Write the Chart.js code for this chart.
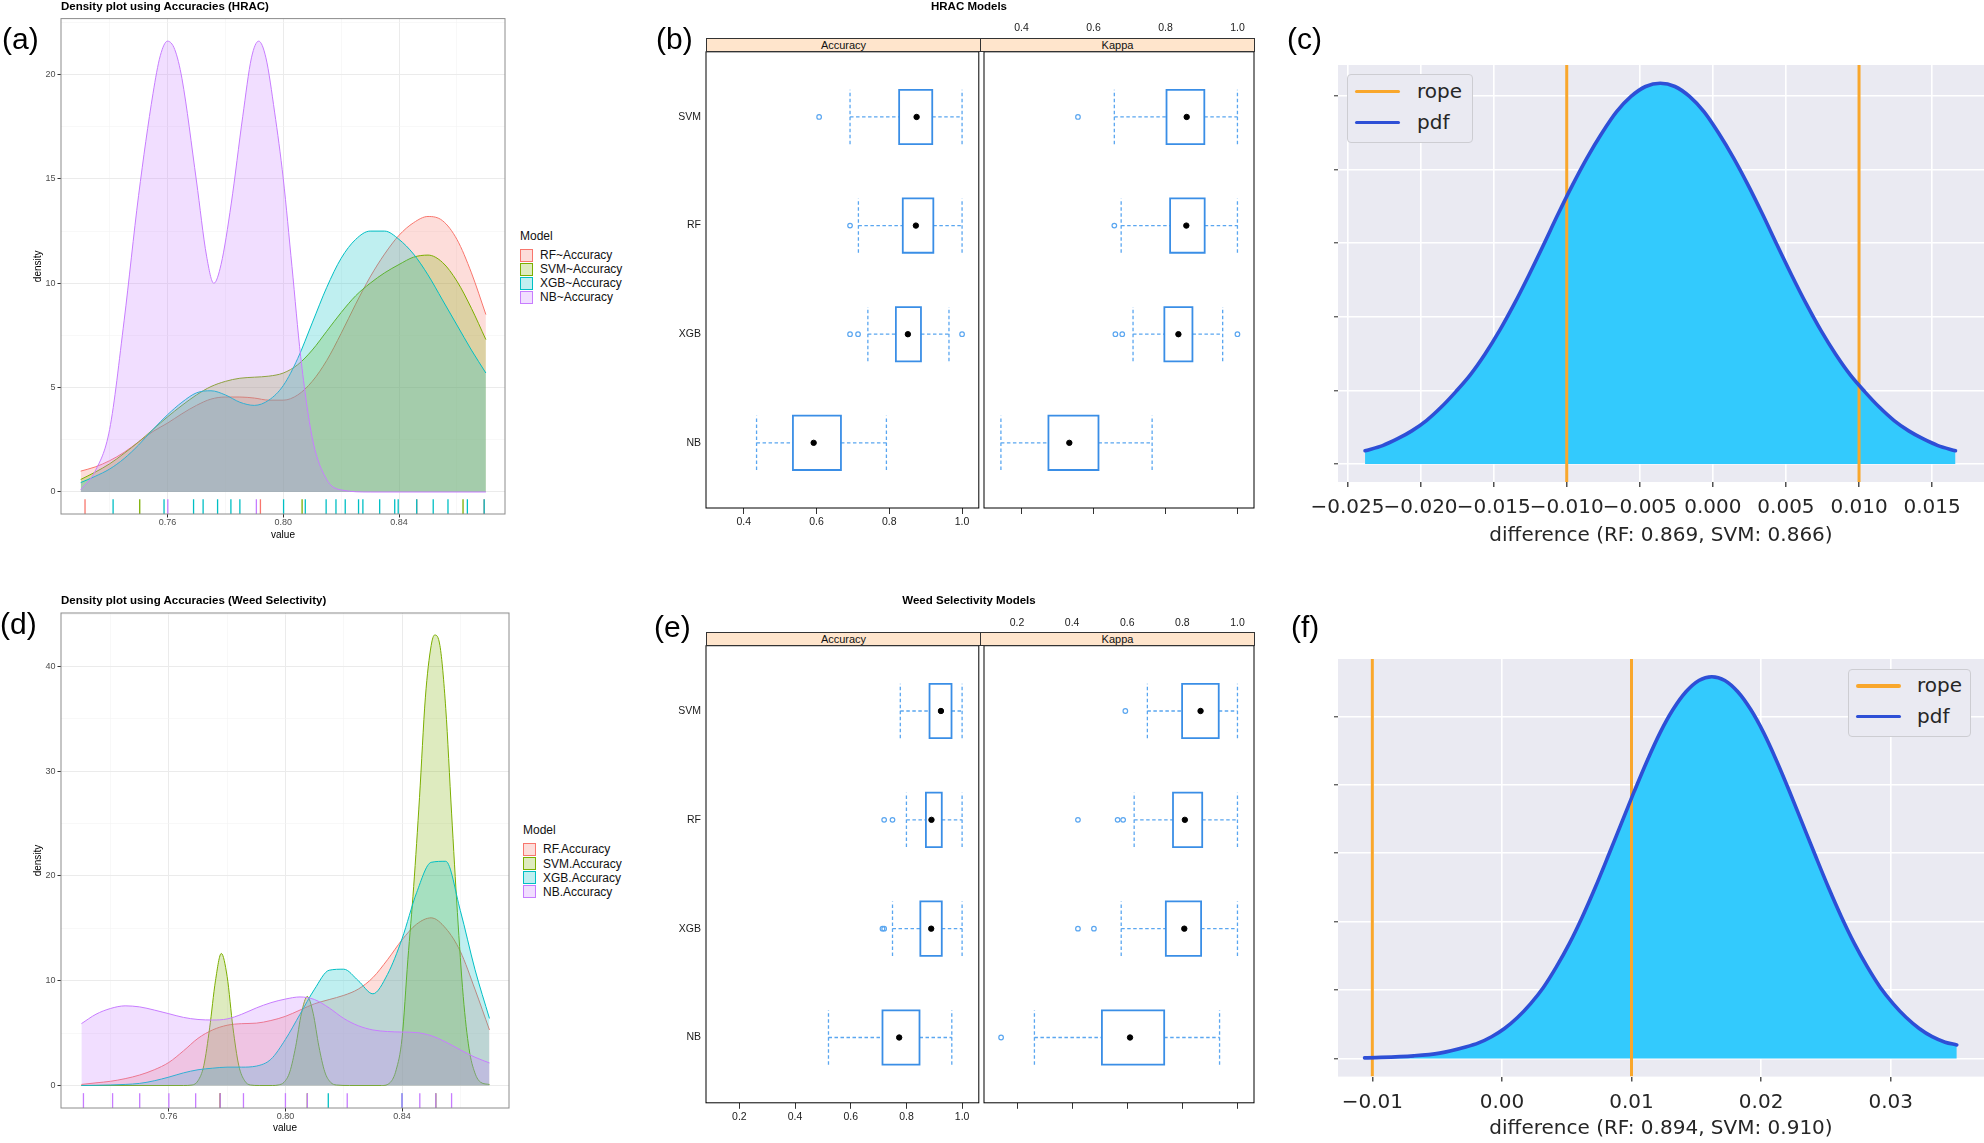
<!DOCTYPE html>
<html>
<head>
<meta charset="utf-8">
<title>Model accuracy comparison</title>
<script src="https://cdn.jsdelivr.net/npm/chart.js@4.4.1/dist/chart.umd.min.js"></script>
<style>
  body { margin: 0; background: #fff; }
  #page { position: relative; width: 1984px; height: 1143px; overflow: hidden; background: #fff;
          font-family: "Liberation Sans", Arial, sans-serif; color: #000; }
  #page canvas, .txt { position: absolute; }
  .txt { white-space: nowrap; line-height: 1; }
  .tag { font-size: 30px; }
  .gtitle { font-size: 11.5px; font-weight: bold; }
  .ctitle { font-size: 11.5px; font-weight: bold; text-align: center; width: 400px; }
  .strip { position: absolute; background: #FFE5CC; border: 1px solid #333; box-sizing: border-box;
           font-size: 11px; text-align: center; color: #111; }
  .lgd { font-size: 12px; color: #111; }
  .key { position: absolute; width: 13px; height: 13px; box-sizing: border-box; border: 1px solid; }
  .sbox { position: absolute; border: 1px solid #cdcdd2; border-radius: 4px; background: #EAEAF2; box-sizing: border-box; }
  .sline { position: absolute; height: 3.5px; border-radius: 2px; }
  .stext { font-family: "DejaVu Sans", sans-serif; font-size: 20px; color: #262626; }
</style>
</head>
<body>
<div id="page"></div>
<script>
// ---------- density plots (a) and (d): curves ----------
const densityGrid = [0.730, 0.735, 0.740, 0.745, 0.750, 0.755, 0.760, 0.765, 0.770, 0.775,
                     0.780, 0.785, 0.790, 0.795, 0.800, 0.805, 0.810, 0.815, 0.820, 0.825,
                     0.830, 0.835, 0.840, 0.845, 0.850, 0.855, 0.860, 0.865, 0.870];

const hracRF  = [1.0, 1.2, 1.5, 1.9, 2.4, 2.9, 3.3, 3.75, 4.15, 4.45, 4.55, 4.55, 4.5, 4.4, 4.4,
                 4.65, 5.3, 6.3, 7.6, 9.0, 10.3, 11.4, 12.3, 12.9, 13.2, 13.0, 12.1, 10.5, 8.5];
const hracSVM = [0.6, 0.95, 1.35, 1.85, 2.4, 3.0, 3.6, 4.15, 4.65, 5.05, 5.3, 5.45, 5.5, 5.55, 5.7,
                 6.1, 6.8, 7.7, 8.6, 9.4, 10.0, 10.5, 10.9, 11.25, 11.35, 11.0, 10.1, 8.8, 7.3];
const hracXGB = [0.45, 0.75, 1.1, 1.6, 2.25, 3.0, 3.7, 4.3, 4.75, 4.85, 4.65, 4.3, 4.15, 4.4, 5.1,
                 6.4, 8.1, 9.8, 11.2, 12.1, 12.5, 12.5, 12.1, 11.4, 10.4, 9.2, 8.0, 6.8, 5.7];
const hracNBx = [0.730, 0.735, 0.740, 0.745, 0.750, 0.755, 0.7575, 0.760, 0.7625, 0.765, 0.770, 0.7735,
                 0.776, 0.7785, 0.782, 0.786, 0.789, 0.7915, 0.794, 0.797, 0.800, 0.803, 0.806, 0.810,
                 0.815, 0.820, 0.830, 0.870];
const hracNB  = [0.1, 1.0, 3.0, 8.2, 14.2, 19.1, 20.9, 21.6, 21.2, 19.8, 14.9, 11.3,
                 10.0, 10.9, 13.8, 18.0, 20.8, 21.6, 20.8, 18.2, 15.0, 10.8, 6.5, 2.6,
                 0.6, 0.1, 0.0, 0.0];

const hracRugRF  = [0.7315, 0.7921, 0.8461, 0.8694];
const hracRugSVM = [0.7504, 0.8065, 0.8621];
const hracRugXGB = [0.7412, 0.7588, 0.7690, 0.7723, 0.7773, 0.7819, 0.7850, 0.8001, 0.8076, 0.8148,
                    0.8182, 0.8214, 0.8260, 0.8275, 0.8333, 0.8385, 0.8397, 0.8461, 0.8518, 0.8569,
                    0.8636, 0.8694];
const hracRugNB  = [0.7601, 0.7907];

const weedRF  = [0.1, 0.25, 0.4, 0.65, 1.0, 1.5, 2.2, 3.3, 4.5, 5.3, 5.75, 5.9, 5.95, 6.2, 6.6,
                 7.2, 7.8, 8.2, 8.6, 9.2, 10.3, 12.0, 13.9, 15.4, 16.0, 15.0, 12.8, 9.2, 5.3];
const weedXGB = [0.0, 0.02, 0.05, 0.1, 0.2, 0.45, 0.8, 1.2, 1.5, 1.65, 1.75, 1.75, 1.85, 2.5, 4.4,
                 6.8, 9.2, 11.0, 11.1, 10.0, 8.75, 10.6, 14.0, 18.4, 21.3, 21.4, 16.7, 11.1, 6.4];
const weedNB  = [5.9, 6.8, 7.35, 7.6, 7.5, 7.2, 6.85, 6.5, 6.3, 6.25, 6.35, 6.8, 7.4, 7.9, 8.25,
                 8.45, 8.2, 7.4, 6.4, 5.7, 5.3, 5.15, 5.1, 5.05, 4.75, 4.15, 3.4, 2.7, 2.15];
const weedSVMx = [0.730, 0.765, 0.768, 0.770, 0.772, 0.774, 0.776, 0.778, 0.780, 0.782, 0.784, 0.786,
                  0.788, 0.791, 0.7955, 0.7975, 0.7995, 0.8015, 0.8035, 0.8055, 0.8075, 0.8095, 0.8115,
                  0.8135, 0.8155, 0.8175, 0.822, 0.833, 0.836, 0.838, 0.840, 0.842, 0.844, 0.846,
                  0.848, 0.850, 0.8512, 0.853, 0.855, 0.857, 0.859, 0.861, 0.863, 0.865, 0.867, 0.870];
const weedSVM  = [0.0, 0.0, 0.05, 0.45, 1.9, 5.5, 10.0, 12.6, 10.4, 5.5, 1.9, 0.45,
                  0.05, 0.0, 0.0, 0.05, 0.3, 1.3, 3.7, 6.9, 8.5, 6.9, 3.7,
                  1.3, 0.3, 0.05, 0.0, 0.0, 0.3, 1.5, 4.5, 12.0, 19.0, 27.5,
                  37.0, 42.0, 43.0, 42.0, 36.0, 26.0, 16.5, 8.5, 3.5, 1.2, 0.3, 0.1];

const weedRugRF  = [0.7776];
const weedRugSVM = [0.7776, 0.8075, 0.8516];
const weedRugXGB = [0.8147, 0.8400];
const weedRugNB  = [0.7307, 0.7407, 0.7500, 0.7600, 0.7692, 0.7776, 0.7856, 0.8000, 0.8075,
                    0.8212, 0.8400, 0.8461, 0.8516, 0.8570];

const hracModelLabels = ['RF~Accuracy', 'SVM~Accuracy', 'XGB~Accuracy', 'NB~Accuracy'];
const weedModelLabels = ['RF.Accuracy', 'SVM.Accuracy', 'XGB.Accuracy', 'NB.Accuracy'];
const modelColors = ['#F8766D', '#7CAE00', '#00BFC4', '#C77CFF'];

const densityXTicks = [0.74, 0.76, 0.78, 0.80, 0.82, 0.84, 0.86];
const densityXMajor = [0.76, 0.80, 0.84];
const hracYTicks = [0, 2.5, 5, 7.5, 10, 12.5, 15, 17.5, 20, 22.5];
const hracYMajor = [0, 5, 10, 15, 20];
const weedYTicks = [0, 5, 10, 15, 20, 25, 30, 35, 40, 45];
const weedYMajor = [0, 10, 20, 30, 40];

// ---------- box plots (b) and (e): [lower whisker, Q1, median, Q3, upper whisker] ----------
const boxModels = ['NB', 'XGB', 'RF', 'SVM'];   // bottom to top
const hracAccuracyBox = [[0.435, 0.535, 0.592, 0.667, 0.792],
                         [0.741, 0.818, 0.851, 0.887, 0.964],
                         [0.715, 0.837, 0.873, 0.921, 1.000],
                         [0.692, 0.827, 0.875, 0.918, 1.000]];
const hracAccuracyOut = [[], [0.692, 0.714, 1.0], [0.692], [0.607]];
const hracKappaBox = [[0.343, 0.475, 0.533, 0.614, 0.763],
                      [0.710, 0.797, 0.836, 0.875, 0.959],
                      [0.677, 0.813, 0.858, 0.909, 1.000],
                      [0.658, 0.803, 0.859, 0.908, 1.000]];
const hracKappaOut = [[], [0.661, 0.680, 1.0], [0.658], [0.557]];
const weedAccuracyBox = [[0.520, 0.714, 0.774, 0.847, 0.963],
                         [0.750, 0.850, 0.889, 0.927, 1.000],
                         [0.800, 0.870, 0.890, 0.927, 1.000],
                         [0.778, 0.883, 0.924, 0.962, 1.000]];
const weedAccuracyOut = [[], [0.714, 0.720], [0.720, 0.750], []];
const weedKappaBox = [[0.263, 0.508, 0.610, 0.734, 0.935],
                      [0.578, 0.740, 0.807, 0.868, 1.000],
                      [0.625, 0.766, 0.809, 0.872, 1.000],
                      [0.673, 0.799, 0.866, 0.932, 1.000]];
const weedKappaOut = [[0.142], [0.421, 0.479], [0.421, 0.565, 0.585], [0.593]];
const hracBoxTicks = [0.4, 0.6, 0.8, 1.0];
const weedBoxTicks = [0.2, 0.4, 0.6, 0.8, 1.0];

// ---------- posterior of the difference (c) and (f) ----------
const ropeBounds = [-0.01, 0.01];
const hracDiffX   = [-0.0238, -0.0226, -0.0216, -0.0206, -0.0196, -0.0186, -0.0176, -0.0166, -0.0156, -0.0146,
                     -0.0136, -0.0126, -0.0116, -0.0106, -0.0096, -0.0086, -0.0076, -0.0066, -0.0056, -0.0046,
                     -0.0036,
                     -0.0026, -0.0016, -0.0006, 0.0004, 0.0014, 0.0024, 0.0034, 0.0044, 0.0054, 0.0064,
                     0.0074, 0.0084, 0.0094, 0.0104, 0.0114, 0.0124, 0.0134, 0.0144, 0.0154, 0.0166];
const hracDiffPdf = [1.8, 2.5, 3.4, 4.5, 5.9, 7.7, 9.8, 12.1, 14.9, 18.1,
                     21.7, 25.6, 29.7, 33.9, 37.9, 41.6, 44.9, 47.8, 49.9, 51.25,
                     51.7,
                     51.25, 49.9, 47.8, 44.9, 41.6, 37.9, 33.9, 29.7, 25.6, 21.7,
                     18.1, 14.9, 12.1, 9.8, 7.7, 5.9, 4.5, 3.4, 2.5, 1.8];
const weedDiffX   = [-0.0106, -0.0068, -0.0048, -0.0028, -0.0018, -0.0008, 0.0002, 0.0012, 0.0022, 0.0032,
                     0.0042, 0.0052, 0.0062, 0.0072, 0.0082, 0.0092, 0.0102, 0.0112, 0.0122, 0.0132,
                     0.0142, 0.0152, 0.0162,
                     0.0172, 0.0182, 0.0192, 0.0202, 0.0212, 0.0222, 0.0232, 0.0242, 0.0252, 0.0262,
                     0.0272, 0.0282, 0.0292, 0.0302, 0.0312, 0.0322, 0.0332, 0.0342, 0.0351];
const weedDiffPdf = [0.1, 0.4, 0.8, 1.7, 2.3, 3.2, 4.4, 6.0, 8.0, 10.4,
                     13.4, 16.8, 20.7, 25.0, 29.6, 34.3, 39.0, 43.5, 47.6, 51.0,
                     53.6, 55.25, 55.8,
                     55.25, 53.6, 51.0, 47.6, 43.5, 39.0, 34.3, 29.6, 25.0, 20.7,
                     16.8, 13.4, 10.4, 8.0, 6.0, 4.4, 3.2, 2.4, 2.0];
const hracDiffTicks = [-0.025, -0.020, -0.015, -0.010, -0.005, 0.000, 0.005, 0.010, 0.015];
const weedDiffTicks = [-0.01, 0.00, 0.01, 0.02, 0.03];
const pdfGridTicks = [0, 10, 20, 30, 40, 50];

// ---------- helpers ----------
Chart.defaults.font.family = '"Liberation Sans", Arial, sans-serif';

const panelPlugin = {
  id: 'panel',
  beforeDraw(chart, args, opts) {
    if (!opts.fill) return;
    const a = chart.chartArea, c = chart.ctx;
    c.save();
    c.fillStyle = opts.fill;
    c.fillRect(a.left, a.top, a.right - a.left, a.bottom - a.top);
    c.restore();
  },
  afterDatasetsDraw(chart, args, opts) {
    if (!opts.border) return;
    const a = chart.chartArea, c = chart.ctx;
    c.save();
    c.strokeStyle = opts.border;
    c.lineWidth = opts.width || 1;
    c.strokeRect(a.left, a.top, a.right - a.left, a.bottom - a.top);
    c.restore();
  }
};
Chart.register(panelPlugin);

const page = document.getElementById('page');

function canvasAt(left, top, w, h) {
  const cv = document.createElement('canvas');
  cv.width = w; cv.height = h;
  cv.style.left = left + 'px'; cv.style.top = top + 'px';
  cv.style.width = w + 'px'; cv.style.height = h + 'px';
  page.appendChild(cv);
  return cv.getContext('2d');
}

function text(str, left, top, cls, extra) {
  const d = document.createElement('div');
  d.className = 'txt ' + (cls || '');
  d.textContent = str;
  d.style.left = left + 'px';
  d.style.top = top + 'px';
  if (extra) Object.assign(d.style, extra);
  page.appendChild(d);
  return d;
}

function box(cls, left, top, w, h, extra) {
  const d = document.createElement('div');
  d.className = cls;
  Object.assign(d.style, { left: left + 'px', top: top + 'px', width: w + 'px', height: h + 'px' }, extra || {});
  page.appendChild(d);
  return d;
}

const near = (list, v) => list.some(m => Math.abs(m - v) < 1e-9);
const rgba = (hex, a) => {
  const n = parseInt(hex.slice(1), 16);
  return `rgba(${n >> 16},${(n >> 8) & 255},${n & 255},${a})`;
};
const fixTicks = values => scale => { scale.ticks = values.map(v => ({ value: v })); };
const pts = (xs, ys) => xs.map((x, i) => ({ x, y: ys[i] }));

// ---------- ggplot style density panel ----------
function densityPanel(p) {
  const ctx = canvasAt(p.left, p.top, p.width, p.height);
  const plotH = p.area.b - p.area.t;
  const rugY = p.yMin + (p.yMax - p.yMin) * 0.015;
  const rugR = plotH * 0.015;
  const rugs = p.series.map(s => ({
    data: s.rug.map(x => ({ x, y: rugY })),
    showLine: false, pointStyle: 'line', pointRotation: 90, pointRadius: rugR,
    borderColor: s.color, pointBorderColor: s.color, pointBorderWidth: 1.3
  })).reverse();
  const curves = p.series.map(s => ({
    data: pts(s.xs, s.ys),
    showLine: true, pointRadius: 0, borderColor: s.color, borderWidth: 1,
    backgroundColor: rgba(s.color, 0.25), fill: 'origin', cubicInterpolationMode: 'monotone'
  })).reverse();
  const isMajX = c => c.tick && near(densityXMajor, c.tick.value);
  const isMajY = c => c.tick && near(p.yMajor, c.tick.value);
  new Chart(ctx, {
    type: 'scatter',
    data: { datasets: rugs.concat(curves) },
    options: {
      responsive: false, animation: false,
      layout: { padding: { left: 0, top: p.area.t, right: p.width - p.area.r, bottom: 0 } },
      plugins: { legend: { display: false }, tooltip: { enabled: false }, panel: { border: '#8C8C8C', width: 1 } },
      scales: {
        x: {
          min: p.xMin, max: p.xMax,
          afterBuildTicks: fixTicks(densityXTicks),
          afterFit: s => { s.height = p.height - p.area.b; },
          border: { display: false },
          grid: {
            color: c => isMajX(c) ? '#EBEBEB' : '#F4F4F4',
            lineWidth: c => isMajX(c) ? 1 : 0.6,
            tickLength: 3.5, tickWidth: 1,
            tickColor: c => isMajX(c) ? '#333333' : 'rgba(0,0,0,0)'
          },
          ticks: { autoSkip: false, maxRotation: 0, padding: 0, color: '#4D4D4D', font: { size: 9 },
                   callback: v => near(densityXMajor, v) ? v.toFixed(2) : '' },
          title: { display: true, text: 'value', color: '#000', font: { size: 10 },
                   padding: { top: 0, bottom: p.xTitlePad } }
        },
        y: {
          min: p.yMin, max: p.yMax,
          afterBuildTicks: fixTicks(p.yTicks),
          afterFit: s => { s.width = p.area.l; },
          border: { display: false },
          grid: {
            color: c => isMajY(c) ? '#EBEBEB' : '#F4F4F4',
            lineWidth: c => isMajY(c) ? 1 : 0.6,
            tickLength: 3.5, tickWidth: 1,
            tickColor: c => isMajY(c) ? '#333333' : 'rgba(0,0,0,0)'
          },
          ticks: { autoSkip: false, padding: 2, color: '#4D4D4D', font: { size: 9 },
                   callback: v => near(p.yMajor, v) ? String(v) : '' },
          title: { display: true, text: 'density', color: '#000', font: { size: 10 },
                   padding: { top: 32, bottom: 0 } }
        }
      }
    }
  });
  // legend
  text('Model', p.legend.x, p.legend.titleY - 6, 'lgd');
  p.series.forEach((s, i) => {
    const cy = p.legend.rowY[i];
    box('key', p.legend.x, cy - 6.5, 13, 13, { borderColor: s.color, background: rgba(s.color, 0.25) });
    text(s.label, p.legend.x + 20, cy - 5.8, 'lgd');
  });
}

// ---------- lattice style box plot panel (one strip) ----------
function latticeHalf(p) {
  const ctx = canvasAt(p.left, p.top, p.width, p.height);
  const H = 0.25;
  const gap = () => ({ x: null, y: null });
  const whisk = [], rects = [], meds = [], outs = [];
  p.stats.forEach((st, i) => {
    const y = i + 1;
    const [lo, q1, med, q3, hi] = st;
    whisk.push({ x: lo, y }, { x: q1, y }, gap(), { x: q3, y }, { x: hi, y }, gap(),
               { x: lo, y: y - H }, { x: lo, y: y + H }, gap(), { x: hi, y: y - H }, { x: hi, y: y + H }, gap());
    rects.push({ x: q1, y: y - H }, { x: q3, y: y - H }, { x: q3, y: y + H }, { x: q1, y: y + H },
               { x: q1, y: y - H }, gap());
    meds.push({ x: med, y });
    p.outliers[i].forEach(v => outs.push({ x: v, y }));
  });
  const scales = {
    x: {
      min: p.range[0], max: p.range[1],
      afterBuildTicks: fixTicks(p.ticks),
      afterFit: s => { s.height = p.height - p.area.b; },
      border: { display: false },
      grid: { drawOnChartArea: false, tickLength: 6, tickColor: '#333', tickWidth: 1 },
      ticks: { autoSkip: false, maxRotation: 0, padding: 2, color: '#1a1a1a', font: { size: 10.5 },
               callback: v => p.bottomLabels ? v.toFixed(1) : '' }
    },
    y: {
      display: p.yLabels,
      min: 0.4, max: 4.6,
      afterBuildTicks: fixTicks([1, 2, 3, 4]),
      afterFit: s => { s.width = p.area.l; },
      border: { display: false },
      grid: { drawOnChartArea: false, drawTicks: false },
      ticks: { padding: 5, color: '#1a1a1a', font: { size: 10.5 }, callback: v => boxModels[v - 1] }
    }
  };
  if (p.topLabels) {
    scales.x2 = {
      position: 'top', min: p.range[0], max: p.range[1],
      afterBuildTicks: fixTicks(p.ticks),
      afterFit: s => { s.height = p.area.t; },
      border: { display: false },
      grid: { drawOnChartArea: false, tickLength: p.area.t - p.stripTop + 1, tickColor: 'rgba(0,0,0,0)' },
      ticks: { autoSkip: false, maxRotation: 0, padding: 2, color: '#1a1a1a', font: { size: 10.5 },
               callback: v => v.toFixed(1) }
    };
  }
  new Chart(ctx, {
    type: 'scatter',
    data: {
      datasets: [
        { data: meds, pointRadius: 2.7, pointBackgroundColor: '#000', pointBorderColor: '#000', borderColor: '#000' },
        { data: outs, pointRadius: 2.3, pointBackgroundColor: 'rgba(0,0,0,0)', backgroundColor: 'rgba(0,0,0,0)',
          pointBorderColor: '#5AA6F0', borderColor: '#5AA6F0', pointBorderWidth: 1.2 },
        { data: rects, showLine: true, pointRadius: 0, borderColor: '#3A8EE6', borderWidth: 1.8,
          borderCapStyle: 'square', fill: false },
        { data: whisk, showLine: true, pointRadius: 0, borderColor: '#5AA6F0', borderWidth: 1.3,
          borderDash: [3.5, 2.5], fill: false }
      ]
    },
    options: {
      responsive: false, animation: false,
      layout: { padding: { left: p.yLabels ? 0 : p.area.l, top: p.topLabels ? 0 : p.area.t,
                           right: p.width - p.area.r, bottom: 0 } },
      plugins: { legend: { display: false }, tooltip: { enabled: false }, panel: { border: '#000', width: 1 } },
      scales
    }
  });
}

function latticePanel(p) {
  const W = 344, W2 = 288;
  latticeHalf({ left: 640, top: p.top, width: W, height: p.height, range: p.range, ticks: p.ticks,
                area: { l: 66, t: p.areaT, r: 340, b: p.areaB }, stats: p.accBox, outliers: p.accOut,
                yLabels: true, bottomLabels: true, topLabels: false });
  latticeHalf({ left: 976, top: p.top, width: W2, height: p.height, range: p.range, ticks: p.ticks,
                area: { l: 4, t: p.areaT, r: 278, b: p.areaB }, stats: p.kapBox, outliers: p.kapOut,
                yLabels: false, bottomLabels: false, topLabels: true, stripTop: p.areaT - p.stripH });
  const sTop = p.top + p.areaT - p.stripH;
  const s1 = box('strip', 706, sTop, 275, p.stripH + 0.5, { lineHeight: (p.stripH - 1) + 'px' });
  s1.textContent = 'Accuracy';
  const s2 = box('strip', 980, sTop, 275, p.stripH + 0.5, { lineHeight: (p.stripH - 1) + 'px' });
  s2.textContent = 'Kappa';
  text(p.title, 969 - 200, p.titleY - 5.6, 'ctitle');
}

// ---------- seaborn style posterior panel ----------
function ropePanel(p) {
  const ctx = canvasAt(1280, p.top, 704, p.height);
  const curve = pts(p.xs, p.ys);
  const rope = [];
  ropeBounds.forEach(r => rope.push({ x: r, y: p.yMin }, { x: r, y: p.yMax }, { x: null, y: null }));
  const sFont = { family: '"DejaVu Sans", sans-serif', size: 20 };
  new Chart(ctx, {
    type: 'scatter',
    data: {
      datasets: [
        { data: curve, showLine: true, pointRadius: 0, borderColor: '#2E4FD6', borderWidth: 3.6,
          borderCapStyle: 'round', fill: false, cubicInterpolationMode: 'monotone' },
        { data: rope, showLine: true, pointRadius: 0, borderColor: '#F9A72C', borderWidth: 3, fill: false },
        { data: curve, showLine: true, pointRadius: 0, borderColor: 'rgba(0,0,0,0)', borderWidth: 0,
          backgroundColor: '#33CAFD', fill: 'origin', cubicInterpolationMode: 'monotone' }
      ]
    },
    options: {
      responsive: false, animation: false,
      layout: { padding: { left: 0, top: p.areaT, right: 0, bottom: 0 } },
      plugins: { legend: { display: false }, tooltip: { enabled: false }, panel: { fill: '#EAEAF2' } },
      scales: {
        x: {
          min: p.xMin, max: p.xMax,
          afterBuildTicks: fixTicks(p.ticks),
          afterFit: s => { s.height = p.height - p.areaB; },
          border: { display: false },
          grid: { color: '#FFFFFF', lineWidth: 1.6, tickLength: 5, tickColor: '#262626', tickWidth: 1.2 },
          ticks: { autoSkip: false, maxRotation: 0, minRotation: 0, padding: 9, color: '#262626', font: sFont,
                   callback: v => (v < -1e-12 ? '\u2212' : '') + Math.abs(v).toFixed(p.digits) },
          title: { display: true, text: p.xlabel, color: '#262626', font: sFont,
                   padding: { top: 0, bottom: p.xTitlePad } }
        },
        y: {
          min: p.yMin, max: p.yMax,
          afterBuildTicks: fixTicks(pdfGridTicks),
          afterFit: s => { s.width = 58; },
          border: { display: false },
          grid: { color: '#FFFFFF', lineWidth: 1.6, tickLength: 4, tickColor: '#262626', tickWidth: 1 },
          ticks: { padding: 0, callback: () => '' }
        }
      }
    }
  });
  // legend
  const L = p.legend;
  box('sbox', L.x, L.y, L.w, L.h);
  box('sline', L.lineX, L.ropeY - 1.75, 45, 0, { height: '3.5px', background: '#F9A72C' });
  box('sline', L.lineX, L.pdfY - 1.75, 45, 0, { height: '3.5px', background: '#2E4FD6' });
  text('rope', L.textX, L.ropeY + 0.8 - 11.4, 'stext');
  text('pdf', L.textX, L.pdfY + 0.8 - 11.4, 'stext');
}

// ---------- build the figure ----------
const hracSeries = [
  { label: hracModelLabels[0], color: modelColors[0], xs: densityGrid, ys: hracRF,  rug: hracRugRF },
  { label: hracModelLabels[1], color: modelColors[1], xs: densityGrid, ys: hracSVM, rug: hracRugSVM },
  { label: hracModelLabels[2], color: modelColors[2], xs: densityGrid, ys: hracXGB, rug: hracRugXGB },
  { label: hracModelLabels[3], color: modelColors[3], xs: hracNBx,     ys: hracNB,  rug: hracRugNB }
];
const weedSeries = [
  { label: weedModelLabels[0], color: modelColors[0], xs: densityGrid, ys: weedRF,  rug: weedRugRF },
  { label: weedModelLabels[1], color: modelColors[1], xs: weedSVMx,    ys: weedSVM, rug: weedRugSVM },
  { label: weedModelLabels[2], color: modelColors[2], xs: densityGrid, ys: weedXGB, rug: weedRugXGB },
  { label: weedModelLabels[3], color: modelColors[3], xs: densityGrid, ys: weedNB,  rug: weedRugNB }
];

densityPanel({ left: 0, top: 0, width: 515, height: 560, area: { l: 61, t: 18.6, r: 505, b: 514 },
               xMin: 0.7232, xMax: 0.8766, yMin: -1.054, yMax: 22.68, yTicks: hracYTicks, yMajor: hracYMajor,
               xTitlePad: 19, series: hracSeries,
               legend: { x: 520, titleY: 236, rowY: [255, 269, 283, 297] } });
densityPanel({ left: 0, top: 580, width: 519, height: 563, area: { l: 61, t: 33, r: 509, b: 528 },
               xMin: 0.723, xMax: 0.8767, yMin: -2.15, yMax: 45.1, yTicks: weedYTicks, yMajor: weedYMajor,
               xTitlePad: 8.4, series: weedSeries,
               legend: { x: 523, titleY: 829.5, rowY: [849, 863.6, 877.6, 891.6] } });

latticePanel({ top: 0, height: 560, areaT: 51.8, areaB: 508, stripH: 14.3, range: [0.296, 1.046],
               ticks: hracBoxTicks, accBox: hracAccuracyBox, accOut: hracAccuracyOut,
               kapBox: hracKappaBox, kapOut: hracKappaOut, title: 'HRAC Models', titleY: 6.4 });
latticePanel({ top: 580, height: 563, areaT: 65.7, areaB: 522.8, stripH: 13.7, range: [0.08, 1.06],
               ticks: weedBoxTicks, accBox: weedAccuracyBox, accOut: weedAccuracyOut,
               kapBox: weedKappaBox, kapOut: weedKappaOut, title: 'Weed Selectivity Models', titleY: 601 });

ropePanel({ top: 0, height: 560, areaT: 65, areaB: 482, xMin: -0.02565, xMax: 0.01855, yMin: -2.44, yMax: 54.17,
            xs: hracDiffX, ys: hracDiffPdf, ticks: hracDiffTicks, digits: 3, xTitlePad: 12.4,
            xlabel: 'difference (RF: 0.869, SVM: 0.866)',
            legend: { x: 1347, y: 74, w: 126, h: 69, lineX: 1355, textX: 1417, ropeY: 91.7, pdfY: 122.3 } });
ropePanel({ top: 580, height: 563, areaT: 79, areaB: 496.6, xMin: -0.01265, xMax: 0.0372, yMin: -2.63, yMax: 58.39,
            xs: weedDiffX, ys: weedDiffPdf, ticks: weedDiffTicks, digits: 2, xTitlePad: 2.5,
            xlabel: 'difference (RF: 0.894, SVM: 0.910)',
            legend: { x: 1848, y: 669, w: 123, h: 68, lineX: 1856, textX: 1917, ropeY: 686, pdfY: 716.4 } });

// panel titles and tags
text('Density plot using Accuracies (HRAC)', 61, 0.8, 'gtitle');
text('Density plot using Accuracies (Weed Selectivity)', 61, 595.4, 'gtitle');
text('(a)', 2, 23.5, 'tag');
text('(b)', 656, 23.5, 'tag');
text('(c)', 1287, 23.5, 'tag');
text('(d)', 0, 608.5, 'tag');
text('(e)', 654, 612, 'tag');
text('(f)', 1291, 612, 'tag');
</script>
</body>
</html>
